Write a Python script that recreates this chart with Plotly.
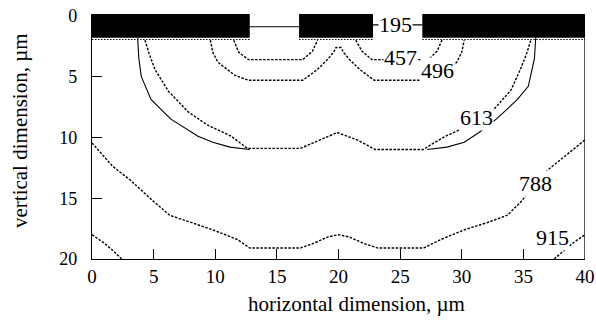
import plotly.graph_objects as go

# ---- data ----
x_ticks = [0, 5, 10, 15, 20, 25, 30, 35, 40]
y_ticks = [0, 5, 10, 15, 20]

# electrode bars (horizontal extent, depth)
bar_left = [-0.2, 16.8, 26.8]
bar_right = [12.8, 22.8, 40.0]
bar_top = -0.15
bar_bottom = 1.8

# contour 195 (in the gaps between electrodes)
c195_x = [12.8, 16.8, None, 22.8, 26.8]
c195_y = [0.9, 0.9, None, 0.75, 0.75]

# contour 457
c457_x = [11.5, 11.9, 12.7, 17.1, 17.9, 18.3, None, 21.4, 21.9, 22.7, 27.3, 28.0, 28.4]
c457_y = [2.0, 3.0, 3.6, 3.6, 2.9, 2.0, None, 2.0, 2.9, 3.6, 3.6, 2.9, 2.0]

# contour 496
c496_x = [9.6, 9.8, 10.2, 11.6, 12.7, 17.1, 18.3, 19.1, 19.6, 19.8, 20.2, 20.4,
          20.9, 21.7, 22.9, 27.3, 28.4, 29.6, 30.0, 30.2]
c496_y = [2.0, 3.0, 3.8, 4.9, 5.3, 5.3, 4.4, 3.6, 3.0, 2.6, 2.6, 3.0,
          3.6, 4.4, 5.3, 5.3, 4.9, 3.8, 3.0, 2.0]

# contour 613 (simulated, dotted)
c613_x = [4.3, 4.6, 5.1, 6.2, 7.8, 9.4, 11.3, 12.6, 16.9, 18.5, 19.9, 21.5, 23.0,
          26.9, 27.5, 28.7, 30.6, 32.6, 34.0, 34.8, 35.3, 35.6]
c613_y = [2.0, 3.0, 4.4, 6.2, 7.9, 9.0, 9.9, 10.9, 10.9, 10.2, 9.6, 10.2, 11.0,
          11.0, 10.6, 9.9, 9.0, 7.7, 6.1, 4.3, 3.0, 2.0]

# contour 613 (smooth solid curve)
s613_x = [3.7, 3.8, 4.0, 4.8, 6.4, 8.6, 9.8, 11.2, 12.8, None,
          27.2, 28.8, 30.2, 31.4, 32.8, 34.5, 35.4, 35.9, 36.0]
s613_y = [1.8, 3.5, 5.0, 6.9, 8.5, 9.9, 10.4, 10.8, 11.0, None,
          11.0, 10.8, 10.4, 9.6, 8.5, 6.9, 5.8, 3.5, 1.8]

# contour 788
c788_x = [0, 1.7, 3.1, 4.7, 6.3, 8.0, 9.8, 11.8, 12.8, 16.9, 18.0, 19.1, 20.0, 20.9,
          22.0, 23.2, 26.9, 28.3, 30.2, 32.1, 33.7, 34.8, 36.7, 38.3, 40]
c788_y = [10.45, 12.4, 13.5, 15.0, 16.4, 17.0, 17.6, 18.4, 19.1, 19.1, 18.7, 18.2, 18.0, 18.2,
          18.7, 19.1, 19.1, 18.4, 17.6, 17.0, 16.4, 15.3, 12.9, 11.6, 10.2]

# contour 915
c915_x = [0, 1.0, 1.8, 2.4, None, 37.5, 38.2, 39.0, 40]
c915_y = [18.0, 18.7, 19.4, 20.0, None, 20.0, 19.4, 18.7, 18.0]

# interface line just under the electrodes
iface_x = [0, 12.8, None, 16.8, 22.8, None, 26.8, 40]
iface_y = [1.95, 1.95, None, 1.95, 1.95, None, 1.95, 1.95]

label_text = ["195", "457", "496", "613", "788", "915"]
label_x = [24.6, 25.0, 28.0, 31.2, 36.0, 37.4]
label_y = [0.75, 3.4, 4.5, 8.4, 13.8, 18.2]

FONT = "Liberation Serif"
DOT = "2.5px,1.5px"

fig = go.Figure()

def add_line(xs, ys, dash, width=1.4):
    fig.add_trace(go.Scatter(x=xs, y=ys, mode="lines", connectgaps=False,
                             line=dict(color="black", width=width, dash=dash),
                             hoverinfo="skip", showlegend=False))

add_line(iface_x, iface_y, "1.5px,1.5px", 1.0)
add_line(c195_x, c195_y, "solid", 1.2)
add_line(c457_x, c457_y, DOT)
add_line(c496_x, c496_y, DOT)
add_line(c613_x, c613_y, DOT)
add_line(s613_x, s613_y, "solid", 1.1)
add_line(c788_x, c788_y, DOT)
add_line(c915_x, c915_y, DOT)

for x0, x1 in zip(bar_left, bar_right):
    fig.add_shape(type="rect", xref="x", yref="y", x0=x0, x1=x1, y0=bar_top, y1=bar_bottom,
                  fillcolor="black", line=dict(width=0))

# right frame line
fig.add_shape(type="line", xref="x", yref="y", x0=40, x1=40, y0=bar_bottom, y1=20,
              line=dict(color="black", width=1.3))

for t, x, y in zip(label_text, label_x, label_y):
    fig.add_annotation(x=x, y=y, xref="x", yref="y", text=t, showarrow=False,
                       font=dict(family=FONT, size=22, color="black"),
                       bgcolor="white", borderpad=0)

fig.add_annotation(x=(356 - 92) / 493, y=(259 - 304) / 245, xref="paper", yref="paper",
                   text="horizontal dimension, µm", showarrow=False,
                   font=dict(family=FONT, size=21, color="black"),
                   xanchor="center", yanchor="middle")
fig.add_annotation(x=(20 - 92) / 493, y=(259 - 131) / 245, xref="paper", yref="paper",
                   text="vertical dimension, µm", showarrow=False, textangle=-90,
                   font=dict(family=FONT, size=21, color="black"),
                   xanchor="center", yanchor="middle")

fig.update_xaxes(range=[0, 40], tickvals=x_ticks, ticktext=[str(v) for v in x_ticks],
                 ticks="inside", ticklen=10, tickcolor="black", tickwidth=1.2,
                 showline=True, linecolor="black", linewidth=1.3, mirror=False,
                 showgrid=False, zeroline=False, ticklabelstandoff=0, automargin=False,
                 tickfont=dict(family=FONT, size=19, color="black"))
fig.update_yaxes(range=[20, bar_top], tickvals=y_ticks, ticktext=[str(v) for v in y_ticks],
                 ticks="inside", ticklen=10, tickcolor="black", tickwidth=1.2,
                 showline=True, linecolor="black", linewidth=1.3, mirror=False,
                 showgrid=False, zeroline=False, ticklabelstandoff=10, automargin=False,
                 tickfont=dict(family=FONT, size=18, color="black"))

fig.update_layout(width=596, height=321, margin=dict(l=92, r=11, t=14, b=62, autoexpand=False),
                  paper_bgcolor="white", plot_bgcolor="white", showlegend=False,
                  font=dict(family=FONT, color="black"))

fig.write_html("out.html", config={"displayModeBar": False},
               post_script="document.body.style.margin='0';")
